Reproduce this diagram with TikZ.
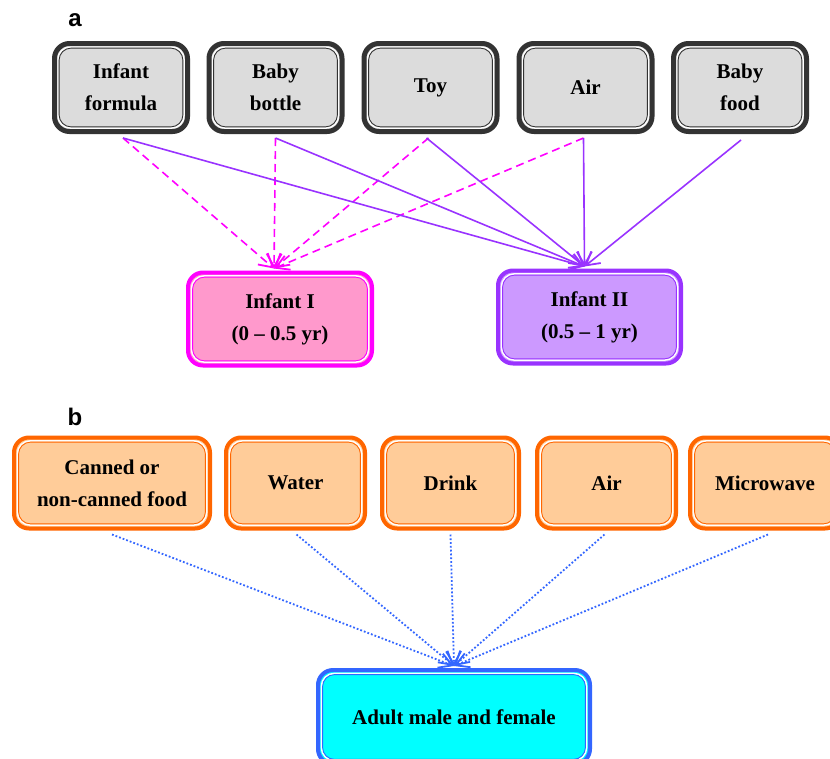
\documentclass[tikz,border=0pt]{standalone}
\usepackage{fontspec}
\setmainfont{Liberation Serif}
\newfontfamily\labelfont{Liberation Sans}
\usetikzlibrary{arrows.meta}
\definecolor{grayline}{HTML}{333333}
\definecolor{grayfill}{HTML}{DCDCDC}
\definecolor{magline}{HTML}{FF00FF}
\definecolor{magfill}{HTML}{FF99CC}
\definecolor{purline}{HTML}{9933FF}
\definecolor{purfill}{HTML}{CC99FF}
\definecolor{orline}{HTML}{FF6600}
\definecolor{orfill}{HTML}{FFCC99}
\definecolor{blline}{HTML}{3366FF}
\definecolor{cyfill}{HTML}{00FFFF}
\tikzset{
  dbox/.style n args={4}{rectangle, rounded corners=15pt, draw=#1, fill=#2,
    line width=#3, minimum width=#4, inner sep=0pt, align=center,
    font=\bfseries\fontsize{21}{32}\selectfont,
    path picture={
      \draw[white, line width=1.6pt, rounded corners=13pt]
        ([shift={(3.4pt,3.4pt)}]path picture bounding box.south west) rectangle
        ([shift={(-3.4pt,-3.4pt)}]path picture bounding box.north east);
      \draw[#1, line width=0.9pt, rounded corners=12pt]
        ([shift={(4.6pt,4.6pt)}]path picture bounding box.south west) rectangle
        ([shift={(-4.6pt,-4.6pt)}]path picture bounding box.north east);
    }},
  topbox/.style={dbox={grayline}{grayfill}{5pt}{133pt}, minimum height=88pt},
  botbox/.style={dbox={orline}{orfill}{4pt}{#1}, minimum height=91pt},
  tip/.style={-{Straight Barb[length=13pt,width=15pt,line width=1.8pt]}},
  dasharrow/.style={magline, line width=1.6pt, dash pattern=on 8pt off 5pt, tip},
  solidarrow/.style={purline, line width=1.6pt, tip},
  dotarrow/.style={blline, line width=1.8pt, dash pattern=on 1.8pt off 2.0pt, tip},
  panel/.style={font=\labelfont\bfseries\fontsize{24}{28}\selectfont, inner sep=0pt}
}
\begin{document}
\begin{tikzpicture}[x=1pt, y=-1pt]
\useasboundingbox (0,0) rectangle (830,758);
% panel labels
\node[panel] (la) at (75,20) {a};
\node[panel] (lb) at (75,417) {b};
% part a
\node[topbox] (f) at (121,87.5) {Infant\\formula};
\node[topbox] (bb) at (275.5,87.5) {Baby\\bottle};
\node[topbox] (t) at (430.5,87.5) {Toy};
\node[topbox] (ai) at (585.5,87.5) {Air};
\node[topbox] (bf) at (740,87.5) {Baby\\food};
\node[dbox={magline}{magfill}{4pt}{184pt}, minimum height=93pt] (i1) at (280,319) {Infant I\\(0 -- 0.5 yr)};
\node[dbox={purline}{purfill}{4pt}{183pt}, minimum height=93pt] (i2) at (589.5,317) {Infant II\\(0.5 -- 1 yr)};
\coordinate (e1) at ([xshift=-6pt, yshift=2pt]i1.north);
\coordinate (e2) at ([xshift=-5pt, yshift=2pt]i2.north);
\draw[dasharrow] ([xshift=2pt, yshift=-4pt]f.south) -- (e1);
\draw[dasharrow] ([yshift=-4pt]bb.south) -- (e1);
\draw[dasharrow] ([xshift=-2pt, yshift=-4pt]t.south) -- (e1);
\draw[dasharrow] ([xshift=-2pt, yshift=-4pt]ai.south) -- (e1);
\draw[solidarrow] ([xshift=2pt, yshift=-4pt]f.south) -- (e2);
\draw[solidarrow] ([yshift=-4pt]bb.south) -- (e2);
\draw[solidarrow] ([xshift=-4pt, yshift=-4pt]t.south) -- (e2);
\draw[solidarrow] ([xshift=-2pt, yshift=-4pt]ai.south) -- (e2);
\draw[solidarrow] ([xshift=1pt, yshift=-6pt]bf.south) -- (e2);
% part b
\node[botbox=196pt] (c) at (112,483) {Canned or\\non-canned food};
\node[botbox=139pt] (w) at (295.5,483) {Water};
\node[botbox=137pt] (d) at (450.5,483) {Drink};
\node[botbox=139pt] (a2) at (606.5,483) {Air};
\node[botbox=150pt] (m) at (765,483) {Microwave};
\node[dbox={blline}{cyfill}{4pt}{272pt}, minimum height=94pt] (ad) at (454,717) {Adult male and female};
\coordinate (e3) at ([yshift=2pt]ad.north);
\draw[dotarrow] ([yshift=-4pt]c.south) -- (e3);
\draw[dotarrow] ([xshift=1pt, yshift=-4pt]w.south) -- (e3);
\draw[dotarrow] ([yshift=-4pt]d.south) -- (e3);
\draw[dotarrow] ([xshift=-2pt, yshift=-4pt]a2.south) -- (e3);
\draw[dotarrow] ([xshift=3pt, yshift=-4pt]m.south) -- (e3);
\end{tikzpicture}
\end{document}
